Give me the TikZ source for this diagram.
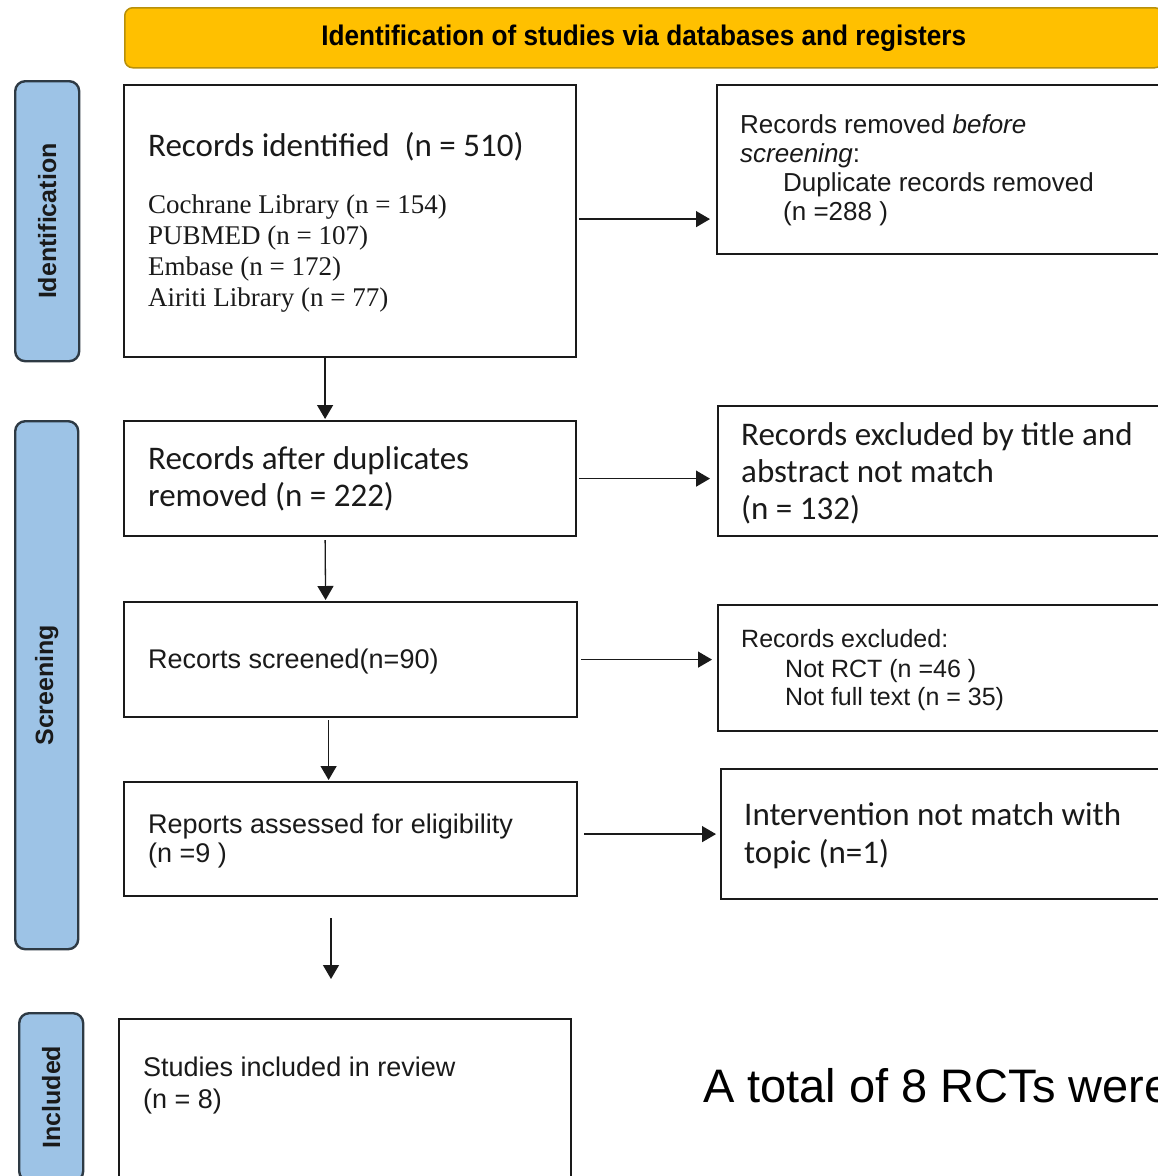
\documentclass[tikz,border=0pt]{standalone}
\usepackage{fontspec}
\usetikzlibrary{arrows.meta}
\newfontfamily\sansA{Liberation Sans}
\newfontfamily\calib{Carlito}
\newfontfamily\serifT{Liberation Serif}
\definecolor{hdrfill}{HTML}{FFC000}
\definecolor{hdrline}{HTML}{B8900A}
\definecolor{sideblue}{HTML}{9DC3E6}
\definecolor{sideline}{HTML}{2E3A44}
\definecolor{ink}{HTML}{1A1A1A}

\tikzset{
  box/.style={draw=ink, line width=2.2pt, fill=white, anchor=north west, inner sep=0pt},
  side/.style={draw=sideline, fill=sideblue, line width=2.4pt, rounded corners=10pt,
               anchor=north west, inner sep=0pt},
  hdr/.style={draw=hdrline, fill=hdrfill, line width=1.5pt, rounded corners=8pt,
              anchor=north west, inner sep=0pt,
              font=\sansA\bfseries\fontsize{27}{30}\selectfont},
  arr/.style={draw=ink, line width=1.3pt, -{Triangle[length=14pt,width=16pt]}},
  txa/.style={anchor=base west, inner sep=0pt, text=ink, font=\sansA\fontsize{27}{30}\selectfont},
  txs/.style={anchor=base west, inner sep=0pt, text=ink, font=\sansA\fontsize{26}{29}\selectfont},
  txr/.style={anchor=base west, inner sep=0pt, text=ink, font=\sansA\fontsize{25}{28}\selectfont},
  txc/.style={anchor=base west, inner sep=0pt, text=ink, font=\calib\fontsize{33}{37}\selectfont},
  txt/.style={anchor=base west, inner sep=0pt, text=ink, font=\serifT\fontsize{27}{31}\selectfont},
  sidetext/.style={rotate=90, inner sep=0pt, text=ink, font=\sansA\bfseries\fontsize{25}{28}\selectfont},
}

\begin{document}
\begin{tikzpicture}[x=1pt, y=-1pt]
\useasboundingbox (0,0) rectangle (1158,1176);
\clip (0,0) rectangle (1158,1176);

% stage header
\node[hdr, minimum width=1038pt, minimum height=60pt] (head) at (124,7)
  {\scalebox{0.97}[1.05]{Identification of studies via databases and registers}};

% stage labels on the left
\node[side, minimum width=64pt, minimum height=280pt] (sid) at (14,80) {};
\node[sidetext] (sidt) at (sid.center) {Identification};
\node[side, minimum width=63pt, minimum height=528pt] (scr) at (14,420) {};
\node[sidetext] (scrt) at (scr.center) {Screening};
\node[side, minimum width=64pt, minimum height=168pt] (inc) at (18,1012) {};
\node[sidetext] (inct) at (inc.center) {Included};

% main column
\node[box, minimum width=452pt, minimum height=272pt] (b1) at (123,84) {};
\node[box, minimum width=452pt, minimum height=115pt] (b2) at (123,420) {};
\node[box, minimum width=453pt, minimum height=115pt] (b3) at (123,601) {};
\node[box, minimum width=453pt, minimum height=114pt] (b4) at (123,781) {};
\node[box, minimum width=452pt, minimum height=170pt] (b5) at (118,1018) {};

% exclusion column
\node[box, minimum width=460pt, minimum height=169pt] (r1) at (716,84) {};
\node[box, minimum width=460pt, minimum height=130pt] (r2) at (717,405) {};
\node[box, minimum width=460pt, minimum height=126pt] (r3) at (717,604) {};
\node[box, minimum width=460pt, minimum height=130pt] (r4) at (720,768) {};

% texts of the main column
\node[txc] (b1a) at (148,156) {Records identified\ \ (n = 510)};
\node[txt] (b1b) at (148,213) {Cochrane Library (n = 154)};
\node[txt] (b1c) at (148,244) {PUBMED (n = 107)};
\node[txt] (b1d) at (148,275) {Embase (n = 172)};
\node[txt] (b1e) at (148,306) {Airiti Library (n = 77)};

\node[txc] (b2a) at (148,469) {Records after duplicates};
\node[txc] (b2b) at (148,506) {removed (n = 222)};

\node[txa] (b3a) at (148,668) {Recorts screened(n=90)};

\node[txa] (b4a) at (148,833) {Reports assessed for eligibility};
\node[txa] (b4b) at (148,862) {(n =9 )};

\node[txa] (b5a) at (143,1076) {Studies included in review};
\node[txa] (b5b) at (143,1108) {(n = 8)};

% texts of the exclusion column
\node[txs] (r1a) at (740,133) {Records removed \textit{before}};
\node[txs] (r1b) at (740,162) {\textit{screening}:};
\node[txs] (r1c) at (783,191) {Duplicate records removed};
\node[txs] (r1d) at (783,220) {(n =288 )};

\node[txc] (r2a) at (741,445) {Records excluded by title and};
\node[txc] (r2b) at (741,482) {abstract not match};
\node[txc] (r2c) at (741,519) {(n = 132)};

\node[txr] (r3a) at (741,647) {Records excluded:};
\node[txr] (r3b) at (785,677) {Not RCT (n =46 )};
\node[txr] (r3c) at (785,705) {Not full text (n = 35)};

\node[txc] (r4a) at (744,825) {Intervention not match with};
\node[txc] (r4b) at (744,863) {topic (n=1)};

% closing remark, running off the right edge
\node[anchor=base west, inner sep=0pt, text=black, font=\sansA\fontsize{47}{52}\selectfont]
  (note) at (703,1102) {A total of 8 RCTs were};

% connectors
\draw[arr, shorten <=2pt, shorten >=6pt] ([yshift=2pt]b1.east) -- ([yshift=2pt]b1.east -| r1.west);
\draw[arr, shorten <=2pt, shorten >=7pt] (b2.east) -- (b2.east -| r2.west);
\draw[arr, shorten <=3pt, shorten >=5pt] (b3.east) -- (b3.east -| r3.west);
\draw[arr, shorten <=6pt, shorten >=4pt] ([yshift=5pt]b4.east) -- ([yshift=5pt]b4.east -| r4.west);

\draw[arr, shorten >=1pt] ([xshift=-25pt]b1.south) -- ([xshift=-25pt]b2.north);
\draw[arr, shorten <=3pt, shorten >=1pt] ([xshift=-25pt]b2.south) -- ([xshift=-25pt]b3.north);
\draw[arr, shorten <=2pt, shorten >=1pt] ([xshift=-22pt]b3.south) -- ([xshift=-22pt]b4.north);

\coordinate (gapTop) at (331,918);
\coordinate (gapEnd) at (331,979);
\draw[arr] (gapTop) -- (gapEnd);
\end{tikzpicture}
\end{document}
